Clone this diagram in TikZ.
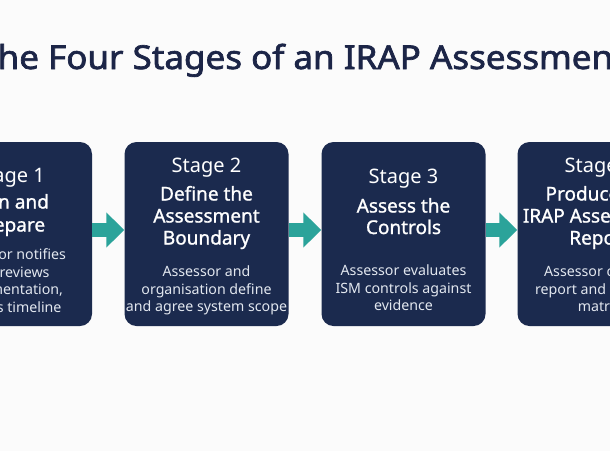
\documentclass[tikz,border=0pt]{standalone}
\usepackage{graphicx}
\usepackage{fontspec}
\setmainfont{Noto Sans}
\newfontfamily\semib{Noto Sans}[FakeBold=2]
\newfontfamily\medf{Noto Sans}[FakeBold=1.1]
\usetikzlibrary{arrows.meta}
\definecolor{navy}{HTML}{1B2A4E}
\definecolor{titlenavy}{HTML}{1C2547}
\definecolor{teal2}{HTML}{2BA39A}
\definecolor{desccol}{HTML}{E2E7EF}
\definecolor{bgcol}{HTML}{FBFBFB}
\tikzset{
  stagebox/.style={fill=navy, rounded corners=12pt, minimum width=164pt, minimum height=184pt, inner sep=0pt},
  stagelbl/.style={anchor=base, text=white, font=\bfseries\fontsize{20}{24}\selectfont, inner sep=0pt},
  headln/.style={anchor=base, text=white, font=\medf\fontsize{19}{22}\selectfont, inner sep=0pt},
  descln/.style={anchor=base, text=desccol, font=\fontsize{14.2}{17}\selectfont, inner sep=0pt},
  flow/.style={draw=teal2, line width=14pt, -{Triangle[length=18pt,width=34pt]}}
}
\begin{document}
\begin{tikzpicture}[x=1pt,y=-1pt]
\useasboundingbox (0,0) rectangle (610,451);
\clip (0,0) rectangle (610,451);
\fill[bgcol] (0,0) rectangle (610,451);

\node[anchor=base, font=\semib\fontsize{33}{40}\selectfont, text=titlenavy, inner sep=0pt] (title) at (302,69) {\scalebox{1.06}[1]{The Four Stages of an IRAP Assessment}};

% boxes
\node[stagebox] (b1) at (10,234) {};
\node[stagebox] (b2) at (206.5,234) {};
\node[stagebox] (b3) at (403.5,234) {};
\node[stagebox] (b4) at (599.5,234) {};

% arrows
\draw[flow] ([yshift=4pt]b1.east) -- ([yshift=4pt]b2.west);
\draw[flow] ([yshift=4pt]b2.east) -- ([yshift=4pt]b3.west);
\draw[flow] ([yshift=4pt]b3.east) -- ([yshift=4pt]b4.west);

% box 1
\node[stagelbl] (s1) at (10,182) {Stage 1};
\node[headln] (h1a) at (10,208.5) {Plan and};
\node[headln] (h1b) at (10,231.5) {Prepare};
\node[descln] (d1a) at (10,259.5) {Assessor notifies};
\node[descln] (d1b) at (10,277) {and reviews};
\node[descln] (d1c) at (10,294.5) {documentation,};
\node[descln] (d1d) at (10,312) {agrees timeline};

% box 2
\node[stagelbl] (s2) at (206.5,172.5) {Stage 2};
\node[headln] (h2a) at (206.5,200.5) {Define the};
\node[headln] (h2b) at (206.5,222.5) {Assessment};
\node[headln] (h2c) at (206.5,244.5) {Boundary};
\node[descln] (d2a) at (206.5,276.5) {Assessor and};
\node[descln] (d2b) at (206.5,294.5) {organisation define};
\node[descln] (d2c) at (206.5,311.5) {and agree system scope};

% box 3
\node[stagelbl] (s3) at (403.5,183) {Stage 3};
\node[headln] (h3a) at (403.5,212.5) {Assess the};
\node[headln] (h3b) at (403.5,234) {Controls};
\node[descln] (d3a) at (403.5,275) {Assessor evaluates};
\node[descln] (d3b) at (403.5,293) {ISM controls against};
\node[descln] (d3c) at (403.5,310.5) {evidence};

% box 4
\node[stagelbl] (s4) at (599.5,172.5) {Stage 4};
\node[headln] (h4a) at (599.5,200.5) {Produce the};
\node[headln] (h4b) at (599.5,222.5) {IRAP Assessment};
\node[headln] (h4c) at (599.5,244.5) {Report};
\node[descln] (d4a) at (599.5,276.5) {Assessor creates};
\node[descln] (d4b) at (599.5,294.5) {report and findings};
\node[descln] (d4c) at (599.5,311.5) {matrix};
\end{tikzpicture}
\end{document}
